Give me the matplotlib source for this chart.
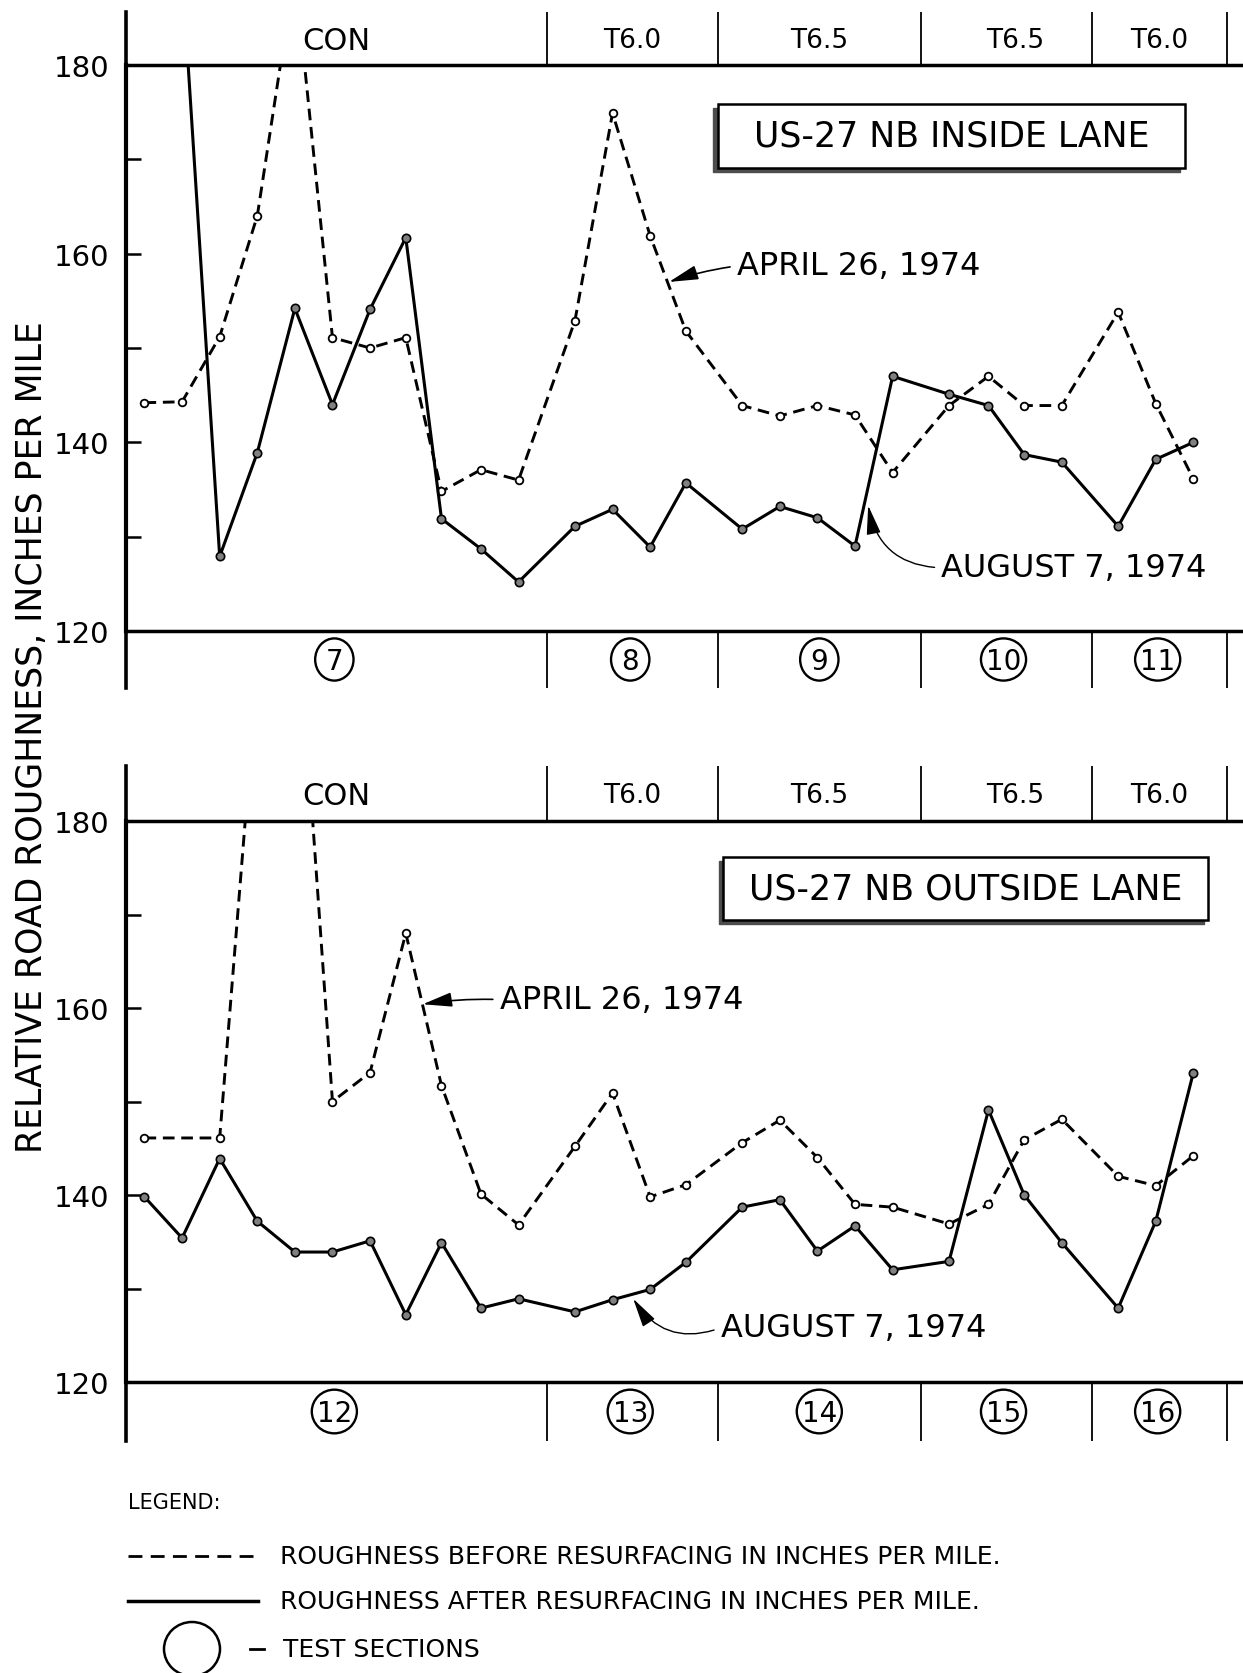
import matplotlib.pyplot as plt
import numpy as np
from matplotlib.patches import Rectangle, Ellipse

# Station positions of the readings (same for both lanes)
x_pos = [0.5, 1.5, 2.5, 3.5, 4.5, 5.5, 6.5, 7.45, 8.4, 9.45, 10.45,
         11.95, 12.95, 13.95, 14.9, 16.4, 17.4, 18.4, 19.4, 20.4,
         21.9, 22.95, 23.9, 24.9, 26.4, 27.4, 28.4]

# Inside lane
april_inside = [144.2, 144.3, 151.2, 164.0, 190.0, 151.1, 150.0, 151.1, 134.8, 137.1, 136.0,
                152.9, 174.9, 161.9, 151.8, 143.9, 142.8, 143.9, 142.9, 136.8,
                143.9, 147.0, 143.9, 143.9, 153.8, 144.1, 136.1]
august_inside = [196.0, 190.0, 127.9, 138.9, 154.2, 144.0, 154.1, 161.7, 131.9, 128.7, 125.2,
                 131.1, 132.9, 128.9, 135.7, 130.8, 133.2, 132.0, 129.0, 147.0,
                 145.1, 143.9, 138.7, 137.9, 131.1, 138.2, 140.0]

# Outside lane (no reading at the second station on April 26)
april_outside = [146.1, np.nan, 146.1, 196.0, 207.0, 150.0, 153.1, 168.0, 151.7, 140.1, 136.8,
                 145.2, 150.9, 139.8, 141.1, 145.6, 148.0, 144.0, 139.0, 138.7,
                 136.9, 139.0, 145.9, 148.1, 142.0, 141.0, 144.2]
august_outside = [139.8, 135.4, 143.9, 137.2, 133.9, 133.9, 135.1, 127.2, 134.9, 127.9, 128.9,
                  127.5, 128.8, 129.9, 132.8, 138.7, 139.5, 134.0, 136.7, 132.0,
                  132.9, 149.1, 140.0, 134.9, 127.9, 137.2, 153.1]

sections = ['CON', 'T6.0', 'T6.5', 'T6.5', 'T6.0']
section_x = [5.6, 13.47, 18.45, 23.65, 27.5]
section_edges = [11.2, 15.75, 21.15, 25.7, 29.3]
numbers_inside = ['7', '8', '9', '10', '11']
numbers_outside = ['12', '13', '14', '15', '16']
number_x = [5.55, 13.42, 18.45, 23.35, 27.45]

W, H = 1243, 1674
XMAX = 29.72


def frac(x0, y0, x1, y1):
    return [x0 / W, 1 - y1 / H, (x1 - x0) / W, (y1 - y0) / H]


fig = plt.figure(figsize=(12.43, 16.74), dpi=100)
plt.rcParams['font.family'] = ['DejaVu Sans']


def panel(y_strip_top, y180, y120, y_strip_bot, april, august, numbers,
          title, box, april_note, august_note):
    ax = fig.add_axes(frac(125.7, y180, W, y120))
    st = fig.add_axes(frac(125.7, y_strip_top, W, y180))
    sb = fig.add_axes(frac(125.7, y120, W, y_strip_bot))

    x = np.array(x_pos)
    a = np.array(april)
    m = np.isfinite(a)
    ax.plot(x[m], a[m], color='black', lw=2.1, ls=(0, (4, 2.3)),
            marker='o', ms=5.5, mfc='white', mec='black', mew=1.3, zorder=3)
    ax.plot(x, august, color='black', lw=2.2, ls='-',
            marker='o', ms=6, mfc='0.5', mec='black', mew=1.2, zorder=4)

    ax.set_xlim(0, XMAX)
    ax.set_ylim(120, 180)
    ax.spines['right'].set_visible(False)
    ax.spines['left'].set_linewidth(3)
    ax.spines['top'].set_linewidth(2.5)
    ax.spines['bottom'].set_linewidth(2.5)
    ax.set_xticks([])
    ax.set_yticks([120, 140, 160, 180])
    ax.set_yticklabels(['120', '140', '160', '180'])
    ax.set_yticks([130, 150, 170], minor=True)
    ax.tick_params(axis='y', which='both', direction='in', length=11, width=1.8,
                   labelsize=21, pad=12)

    # title box with shadow
    bx, by, bw, bh = box
    ax.add_patch(Rectangle((bx - 0.13, by - 0.45), bw, bh, fc='0.3', ec='0.3', zorder=5))
    ax.add_patch(Rectangle((bx, by), bw, bh, fc='white', ec='black', lw=1.8, zorder=6))
    ax.text(bx + bw / 2, by + bh / 2, title, ha='center', va='center',
            fontsize=25, zorder=7)

    (tx, ty), (hx, hy) = april_note
    ax.annotate('APRIL 26, 1974', xy=(hx, hy), xytext=(tx, ty),
                ha='left', va='center', fontsize=23, zorder=8,
                arrowprops=dict(arrowstyle='-|>,head_length=0.9,head_width=0.22',
                                color='black', lw=1.2, mutation_scale=20,
                                relpos=(0, 0.5), shrinkA=3, shrinkB=0,
                                connectionstyle='arc3,rad=0.05'))
    (tx, ty), (hx, hy) = august_note
    ax.annotate('AUGUST 7, 1974', xy=(hx, hy), xytext=(tx, ty),
                ha='left', va='center', fontsize=23, zorder=8,
                arrowprops=dict(arrowstyle='-|>,head_length=0.9,head_width=0.22',
                                color='black', lw=1.0, mutation_scale=20,
                                relpos=(0, 0.5), shrinkA=3, shrinkB=0,
                                connectionstyle='arc3,rad=-0.4'))

    for s in (st, sb):
        s.set_xlim(0, XMAX)
        s.set_ylim(0, 1)
        s.axis('off')
        s.axvline(0, color='black', lw=2.6, clip_on=False)
        s.vlines(section_edges, 0, 1, color='black', lw=1.3)

    for lx, lab in zip(section_x, sections):
        size = 22 if lab == 'CON' else 19
        st.text(lx, 0.47, lab, ha='center', va='center', fontsize=size)
    for nx, lab in zip(number_x, numbers):
        w = 1.02 if len(lab) == 1 else 1.2
        sb.add_patch(Ellipse((nx, 0.5), w, 0.74, fill=False, ec='black', lw=1.7))
        sb.text(nx, 0.48, lab, ha='center', va='center', fontsize=20)
    return ax


panel(13, 66, 632, 689, april_inside, august_inside, numbers_inside,
      'US-27 NB INSIDE LANE', (15.75, 169.1, 12.42, 6.8),
      ((16.26, 158.7), (14.45, 157.0)), ((21.7, 126.7), (19.75, 133.3)))

panel(767, 822, 1383, 1442, april_outside, august_outside, numbers_outside,
      'US-27 NB OUTSIDE LANE', (15.9, 169.4, 12.9, 6.75),
      ((9.95, 160.9), (7.9, 160.4)), ((15.83, 125.8), (13.5, 128.9)))

# overlay in pixel units for axis title and legend
ov = fig.add_axes([0, 0, 1, 1])
ov.set_xlim(0, W)
ov.set_ylim(H, 0)
ov.axis('off')
ov.patch.set_alpha(0)

ov.text(32, 737, 'RELATIVE ROAD ROUGHNESS, INCHES PER MILE', rotation=90,
        ha='center', va='center', fontsize=25)

ov.text(128, 1503, 'LEGEND:', ha='left', va='center', fontsize=15)
ov.plot([128, 256], [1557, 1557], color='black', lw=2, ls=(0, (5, 3)))
ov.text(280, 1557, 'ROUGHNESS BEFORE RESURFACING IN INCHES PER MILE.',
        ha='left', va='center', fontsize=18)
ov.plot([128, 258], [1602, 1602], color='black', lw=2.5)
ov.text(280, 1602, 'ROUGHNESS AFTER RESURFACING IN INCHES PER MILE.',
        ha='left', va='center', fontsize=18)
ov.add_patch(Ellipse((192, 1650), 56, 54, fill=False, ec='black', lw=1.8))
ov.plot([250, 264], [1650, 1650], color='black', lw=2)
ov.text(283, 1650, 'TEST SECTIONS', ha='left', va='center', fontsize=18)

fig.savefig('out.png', dpi=100)
